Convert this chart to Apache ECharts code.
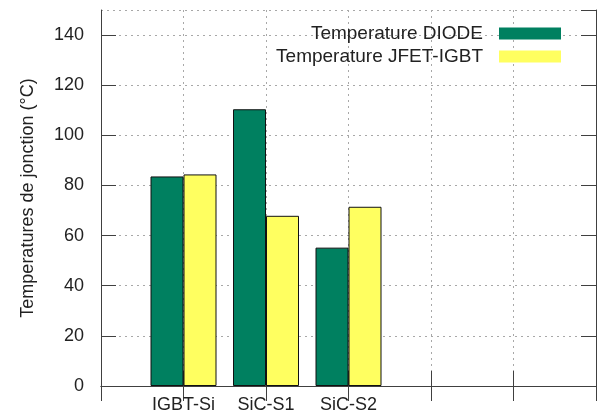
<!DOCTYPE html>
<html>
<head>
<meta charset="utf-8">
<script src="https://cdn.jsdelivr.net/npm/echarts@6/dist/echarts.min.js"></script>
<style>
    html, body { margin: 0; padding: 0; background: #fff; }
    #chart { width: 606px; height: 416px; }
</style>
</head>
<body>
<div id="chart"></div>
<script>
// values
const categories = ['IGBT-Si', 'SiC-S1', 'SiC-S2'];
const diode = [83.6, 110.4, 55.2];
const jfetIgbt = [84.4, 67.9, 71.5];
const seriesNames = ['Temperature DIODE', 'Temperature JFET-IGBT'];
const yMax = 150;
const yStep = 20;

// the x range runs from one empty slot before the first group to three after the last
const slots = ['', ...categories, '', '', ''];
const pad = (arr) => ['-', ...arr, '-', '-', '-'];

const font = 'Liberation Sans, Arial, sans-serif';
const ink = '#222';
const frame = '#404040';
const gridLine = { show: true, lineStyle: { color: '#a8a8a8', type: [2, 4], width: 1 } };
const tick = { show: true, inside: true, length: 15, lineStyle: { color: frame } };

const legendItem = (name, top) => ({
    data: [name],
    right: 45, top: top, padding: 0,
    align: 'right',
    itemWidth: 62, itemHeight: 12,
    icon: 'rect',
    itemStyle: { borderWidth: 0 },
    textStyle: { fontSize: 19, color: ink, fontFamily: font, padding: [0, 11, 0, 0] }
});

const chart = echarts.init(document.getElementById('chart'));
chart.setOption({
    animation: false,
    textStyle: { fontFamily: font },
    grid: { left: 101, right: 10, top: 10, bottom: 30 },
    legend: [legendItem(seriesNames[0], 24), legendItem(seriesNames[1], 47)],
    xAxis: [
        {
            type: 'category',
            data: slots,
            boundaryGap: false,
            axisLine: { show: true, lineStyle: { color: frame } },
            axisTick: tick,
            splitLine: gridLine,
            axisLabel: { color: ink, fontSize: 18, margin: 10, interval: 0 }
        },
        {
            type: 'category',
            position: 'top',
            data: slots,
            boundaryGap: false,
            axisLine: { show: true, lineStyle: { color: frame } },
            axisTick: tick,
            axisLabel: { show: false }
        }
    ],
    yAxis: [
        {
            type: 'value',
            min: 0, max: yMax, interval: yStep,
            name: 'Temperatures de jonction (°C)',
            nameLocation: 'middle',
            nameGap: 64,
            nameTextStyle: { color: ink, fontSize: 18, fontFamily: font },
            axisLine: { show: true, lineStyle: { color: frame } },
            axisTick: tick,
            splitLine: gridLine,
            axisLabel: { color: ink, fontSize: 18, margin: 17, showMaxLabel: false }
        },
        {
            type: 'value',
            position: 'right',
            min: 0, max: yMax, interval: yStep,
            axisLine: { show: true, lineStyle: { color: frame } },
            axisTick: tick,
            splitLine: { show: false },
            axisLabel: { show: false }
        }
    ],
    series: [
        {
            name: seriesNames[0],
            type: 'bar',
            data: pad(diode),
            barWidth: 33,
            barGap: '0%',
            itemStyle: { color: '#008060', borderColor: '#111', borderWidth: 1 }
        },
        {
            name: seriesNames[1],
            type: 'bar',
            data: pad(jfetIgbt),
            barWidth: 33,
            barGap: '0%',
            itemStyle: { color: '#ffff60', borderColor: '#111', borderWidth: 1 }
        }
    ]
});
</script>
</body>
</html>
